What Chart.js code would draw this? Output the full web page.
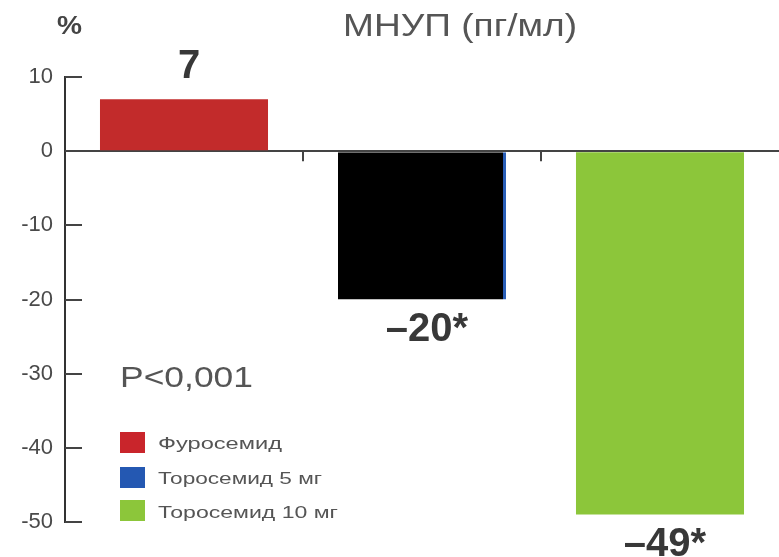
<!DOCTYPE html>
<html>
<head>
<meta charset="utf-8">
<script src="https://cdn.jsdelivr.net/npm/chart.js@4"></script>
<style>
  html, body { margin: 0; padding: 0; background: #fff; }
  #wrap { width: 779px; height: 557px; position: relative; }
</style>
</head>
<body>
<div id="wrap"><canvas id="grafica"></canvas></div>
<script>
// Datos
const categorias = ["Фуросемид", "Торосемид 5 мг", "Торосемид 10 мг"];
const cambios = [7, -20, -49];
const etiquetas = ["7", "–20*", "–49*"];
const coloresBarra = ["#c22b2b", "#000000", "#8cc63a"];
const coloresLeyenda = ["#c9252b", "#2458b2", "#8cc63a"];
const bordeDerecho = [0, 3, 0];

const FUENTE = "'Liberation Sans', Arial, sans-serif";

// texto estirado a un ancho dado
function textoAncho(ctx, txt, x, y, ancho) {
  const w = ctx.measureText(txt).width;
  ctx.save();
  ctx.translate(x, y);
  ctx.scale(ancho / w, 1);
  ctx.textAlign = "left";
  ctx.fillText(txt, 0, 0);
  ctx.restore();
}

const extras = {
  id: "extras",
  afterDatasetsDraw(chart) {
    const ctx = chart.ctx;
    const meta = chart.getDatasetMeta(0);
    ctx.save();
    ctx.fillStyle = "#383838";
    ctx.font = "bold 40px " + FUENTE;
    ctx.textAlign = "center";
    ctx.textBaseline = "alphabetic";
    meta.data.forEach((bar, i) => {
      const v = cambios[i];
      const y = v >= 0 ? bar.y - 21 : bar.y + 41;
      ctx.fillText(etiquetas[i], bar.x + 5, y);
    });
    ctx.restore();
  },
  afterDraw(chart) {
    const ctx = chart.ctx;
    const ys = chart.scales.y;
    const xs = chart.scales.x;
    ctx.save();
    // marcas hacia dentro del eje Y
    ctx.strokeStyle = "#444";
    ctx.lineWidth = 2;
    ys.ticks.forEach(t => {
      const py = Math.round(ys.getPixelForValue(t.value));
      ctx.beginPath();
      ctx.moveTo(ys.right, py);
      ctx.lineTo(ys.right + 17, py);
      ctx.stroke();
    });
    // separadores de categorias sobre la linea cero
    const y0 = ys.getPixelForValue(0);
    for (let i = 1; i < categorias.length; i++) {
      const px = (xs.getPixelForValue(i - 1) + xs.getPixelForValue(i)) / 2;
      ctx.beginPath();
      ctx.moveTo(px, y0);
      ctx.lineTo(px, y0 + 10);
      ctx.stroke();
    }

    // titulo y unidades
    ctx.fillStyle = "#444";
    ctx.font = "bold 26px " + FUENTE;
    textoAncho(ctx, "%", 57, 34, 25);
    ctx.fillStyle = "#555";
    ctx.font = "32px " + FUENTE;
    textoAncho(ctx, "МНУП (пг/мл)", 343, 36, 234);
    ctx.font = "30px " + FUENTE;
    textoAncho(ctx, "P<0,001", 120, 387, 133);

    // leyenda
    const filas = [[432, 449, 124], [467, 484, 164], [500, 518, 180]];
    ctx.font = "16px " + FUENTE;
    categorias.forEach((c, i) => {
      ctx.fillStyle = coloresLeyenda[i];
      ctx.fillRect(120, filas[i][0], 25, 21);
      ctx.fillStyle = "#555";
      textoAncho(ctx, c, 158, filas[i][1], filas[i][2]);
    });
    ctx.restore();
  }
};

new Chart(document.getElementById("grafica"), {
  type: "bar",
  data: {
    labels: categorias,
    datasets: [{
      data: cambios,
      backgroundColor: coloresBarra,
      borderColor: ["transparent", "#2a5fb8", "transparent"],
      borderWidth: ctx => ({ top: 0, left: 0, bottom: 0, right: bordeDerecho[ctx.dataIndex] }),
      borderSkipped: false,
      categoryPercentage: 1,
      barPercentage: 0.706
    }]
  },
  options: {
    responsive: true,
    maintainAspectRatio: false,
    animation: false,
    layout: { padding: { top: 77, bottom: 35, left: 0, right: 0 } },
    plugins: {
      legend: { display: false },
      tooltip: { enabled: false },
      title: { display: false }
    },
    scales: {
      x: { display: false },
      y: {
        min: -50,
        max: 10,
        ticks: {
          stepSize: 10,
          color: "#4a4a4a",
          padding: 12,
          font: { family: FUENTE, size: 22 }
        },
        grid: {
          drawTicks: false,
          lineWidth: 2,
          color: c => (c.tick && c.tick.value === 0 ? "#444" : "transparent")
        },
        border: { display: true, color: "#333", width: 2 },
        afterFit: s => { s.width = 65; }
      }
    }
  },
  plugins: [extras]
});
</script>
</body>
</html>
